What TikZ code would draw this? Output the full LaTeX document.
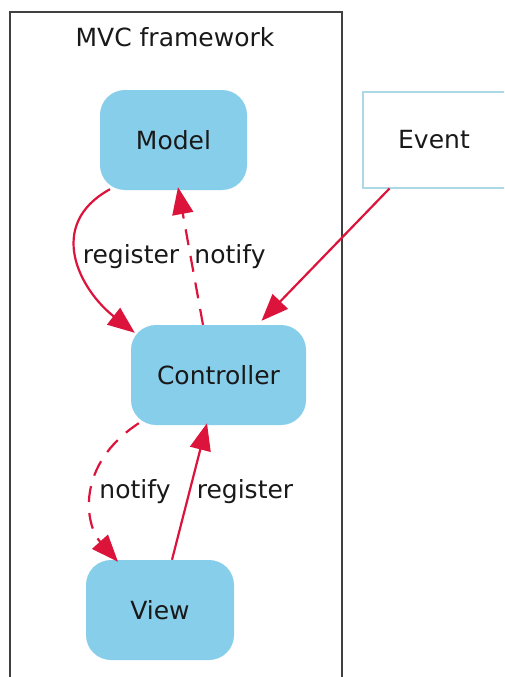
\documentclass[tikz,border=0pt]{standalone}
\usepackage{fontspec}
\setmainfont{DejaVu Sans}
\usetikzlibrary{arrows.meta}
\definecolor{nodefill}{HTML}{87CEEB}
\definecolor{eventline}{HTML}{ADD8E6}
\definecolor{edgecol}{HTML}{DC143C}
\begin{document}
\begin{tikzpicture}[x=1pt,y=-1pt,
  every node/.style={font=\fontsize{25}{29}\selectfont, text=black!90},
  mvcbox/.style={fill=nodefill, draw=none, rounded corners=25pt, minimum height=100pt},
  eventbox/.style={draw=eventline, line width=2pt, fill=white, minimum width=143pt, minimum height=96pt},
  conn/.style={draw=edgecol, line width=2.2pt, -{Triangle[length=27pt,width=21pt]}},
  dashconn/.style={conn, dash pattern=on 16pt off 11pt},
  lbl/.style={anchor=base}
]
\clip (0,0) rectangle (504,677);
\fill[white] (0,0) rectangle (504,677);

% cluster frame
\draw[line width=2.6pt, black!75] (10,700) -- (10,12) -- (342,12) -- (342,700);
\node (title) at (175,37) {MVC framework};

% nodes
\node[mvcbox, minimum width=147pt] (model) at (173.5,140) {Model};
\node[mvcbox, minimum width=175pt] (ctrl) at (218.5,375) {Controller};
\node[mvcbox, minimum width=148pt] (view) at (160,610) {View};
\node[eventbox] (event) at (434,139.5) {Event};

% connectors
\draw[conn] ([shift={(-63.5,-1)}]model.south) .. controls (45,225) and (80,290) .. ([shift={(4,8)}]ctrl.north west);
\draw[dashconn] ([xshift=-15.5]ctrl.north) -- ([shift={(4.5,-3)}]model.south);
\draw[conn] ([xshift=28]event.south west) -- ([xshift=43,yshift=4]ctrl.north);
\draw[dashconn] ([shift={(8,-2)}]ctrl.south west) .. controls (75,465) and (85,525) .. ([shift={(-42,2)}]view.north);
\draw[conn] ([xshift=12]view.north) -- ([shift={(-11.5,-2)}]ctrl.south);

% edge labels
\node[lbl] (l1) at (131,263) {register};
\node[lbl] (l2) at (230,263) {notify};
\node[lbl] (l3) at (135,498) {notify};
\node[lbl] (l4) at (245,498) {register};
\end{tikzpicture}
\end{document}
